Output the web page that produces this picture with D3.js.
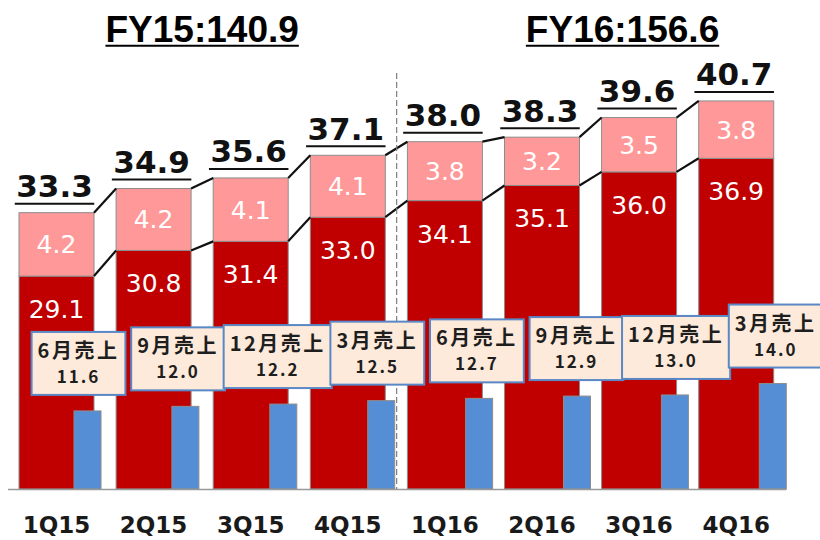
<!DOCTYPE html>
<html><head><meta charset="utf-8">
<script src="https://cdn.jsdelivr.net/npm/d3@7"></script>
<style>
html,body{margin:0;padding:0;background:#fff;}
svg{display:block;}
</style>
</head><body>
<svg id="chart" width="820" height="540"></svg>
<script>
const categories = ["1Q15","2Q15","3Q15","4Q15","1Q16","2Q16","3Q16","4Q16"];
const baseValues = [29.1,30.8,31.4,33.0,34.1,35.1,36.0,36.9];
const addValues  = [4.2,4.2,4.1,4.1,3.8,3.2,3.5,3.8];
const totals     = [33.3,34.9,35.6,37.1,38.0,38.3,39.6,40.7];
const monthLabels = ["6月売上","9月売上","12月売上","3月売上","6月売上","9月売上","12月売上","3月売上"];
const monthValues = [11.6,12.0,12.2,12.5,12.7,12.9,13.0,14.0];
const fyLabels = ["FY15","FY16"];
const fyTotals = ["140.9","156.6"];
const fyGroups = [["1Q15","4Q15"],["1Q16","4Q16"]];

const svg = d3.select("#chart");
const baseY = 489;

const x = d3.scaleBand().domain(categories).range([19, 773.7]).paddingInner(1 - 75/97.1).paddingOuter(0);
const xb = d3.scaleBand().domain(categories).range([74, 786.3]).paddingInner(1 - 27/97.9).paddingOuter(0);
const y = d3.scaleLinear().domain([15, 44]).range([baseY, baseY - 29*15.1]);
const yb = d3.scaleLinear().domain([4.75, 15]).range([baseY, baseY - (15-4.75)*11.4]);

const data = categories.map((c,i)=>({c, i, base:baseValues[i], add:addValues[i], total:totals[i], ml:monthLabels[i], mv:monthValues[i]}));

// dark red base
svg.append("g").selectAll("rect").data(data).join("rect")
  .attr("x", d=>x(d.c)).attr("width", x.bandwidth())
  .attr("y", d=>y(d.base)).attr("height", d=>baseY - y(d.base))
  .attr("fill","#C00000").attr("stroke","#8c8c8c").attr("stroke-width",1);
// pink top
svg.append("g").selectAll("rect").data(data).join("rect")
  .attr("x", d=>x(d.c)).attr("width", x.bandwidth())
  .attr("y", d=>y(d.total)).attr("height", d=>y(d.base) - y(d.total))
  .attr("fill","#FF9999").attr("stroke","#8c8c8c").attr("stroke-width",1);

// blue bars
svg.append("g").selectAll("rect").data(data).join("rect")
  .attr("x", d=>xb(d.c)).attr("width", xb.bandwidth())
  .attr("y", d=>yb(d.mv)).attr("height", d=>baseY - yb(d.mv))
  .attr("fill","#558ED5").attr("stroke","#8c8c8c").attr("stroke-width",1);

// axis baseline
svg.append("line").attr("x1",8).attr("x2",xb.range()[1]).attr("y1",baseY+0.5).attr("y2",baseY+0.5)
  .attr("stroke","#999").attr("stroke-width",1.5);

// connectors
const pairs = d3.pairs(data);
const conn = svg.append("g").attr("stroke","#111").attr("stroke-width",2.2);
pairs.forEach(([a,b])=>{
  conn.append("line").attr("x1",x(a.c)+x.bandwidth()).attr("y1",y(a.total))
    .attr("x2",x(b.c)).attr("y2",y(b.total));
  conn.append("line").attr("x1",x(a.c)+x.bandwidth()).attr("y1",y(a.base))
    .attr("x2",x(b.c)).attr("y2",y(b.base));
});

// dashed separator
const sepX = (x("4Q15")+x.bandwidth() + x("1Q16"))/2 + 0.3;
svg.append("line").attr("x1",sepX).attr("x2",sepX).attr("y1",73).attr("y2",baseY)
  .attr("stroke","#7f7f7f").attr("stroke-width",1.2).attr("stroke-dasharray","6,3");

// segment labels
svg.append("g").selectAll("text").data(data).join("text")
  .attr("x", d=>x(d.c)+x.bandwidth()/2).attr("y", d=>(y(d.total)+y(d.base))/2 + 9)
  .attr("text-anchor","middle").attr("fill","#fff")
  .style("font-family","DejaVu Sans").style("font-size","25px")
  .text(d=>d.add.toFixed(1));
svg.append("g").selectAll("text").data(data).join("text")
  .attr("x", d=>x(d.c)+x.bandwidth()/2).attr("y", d=>y(d.base) + 42)
  .attr("text-anchor","middle").attr("fill","#fff")
  .style("font-family","DejaVu Sans").style("font-size","25px")
  .text(d=>d.base.toFixed(1));

// total labels with underline
const tg = svg.append("g");
data.forEach(d=>{
  const cx = x(d.c)+x.bandwidth()/2 - 2;
  const t = tg.append("text").attr("x",cx).attr("y",y(d.total)-15.5)
    .attr("text-anchor","middle").attr("fill","#111")
    .style("font-family","DejaVu Sans").style("font-weight","bold").style("font-size","31px")
    .text(d.total.toFixed(1));
  const w = t.node().getComputedTextLength();
  tg.append("line").attr("x1",cx-w/2-1.5).attr("x2",cx+w/2+1.5)
    .attr("y1",y(d.total)-9).attr("y2",y(d.total)-9)
    .attr("stroke","#111").attr("stroke-width",2);
});

// FY titles
fyLabels.forEach((lab,k)=>{
  const [a,b] = fyGroups[k];
  let cx = (x(a) + x(b)+x.bandwidth())/2;
  if (k===1) cx += 32;
  const t = svg.append("text").attr("x",cx).attr("y",41.7).attr("fill","#000")
    .attr("text-anchor","middle")
    .style("font-family","Liberation Sans, Arial").style("font-weight","bold").style("font-size","37px")
    .text(lab + ":" + fyTotals[k]);
  const bb = t.node().getBBox();
  svg.append("line").attr("x1",bb.x).attr("x2",bb.x+bb.width)
    .attr("y1",45.7).attr("y2",45.7).attr("stroke","#000").attr("stroke-width",2);
});

// callouts
const cg = svg.append("g");
data.forEach(d=>{
  const bcx = xb(d.c) + xb.bandwidth()/2 - 9 + 1.7*d.i;
  const top = yb(d.mv) - 79;
  const g = cg.append("g");
  const rect = g.append("rect");
  const t1 = g.append("text").attr("x",bcx).attr("y",top+26).attr("text-anchor","middle")
    .attr("fill","#1e1e1e").style("font-family","Noto Sans CJK JP").style("font-weight","bold")
    .style("font-size","20px").style("letter-spacing","2.5px").text(d.ml);
  const t2 = g.append("text").attr("x",bcx).attr("y",top+51).attr("text-anchor","middle")
    .attr("fill","#1e1e1e").style("font-family","Noto Sans CJK JP").style("font-weight","bold")
    .style("font-size","17px").style("letter-spacing","2px").text(d.mv.toFixed(1));
  const w = t1.node().getBBox().width + 12;
  rect.attr("x",bcx - w/2).attr("y",top).attr("width",w).attr("height",63)
    .attr("fill","#FDEADA").attr("stroke","#5A87C5").attr("stroke-width",2);
});

// category labels
svg.append("g").selectAll("text").data(data).join("text")
  .attr("x", d=>x(d.c)+x.bandwidth()/2).attr("y",533)
  .attr("text-anchor","middle").attr("fill","#1a1a1a")
  .style("font-family","DejaVu Sans").style("font-weight","bold").style("font-size","23px")
  .text(d=>d.c);
</script>
</body></html>
